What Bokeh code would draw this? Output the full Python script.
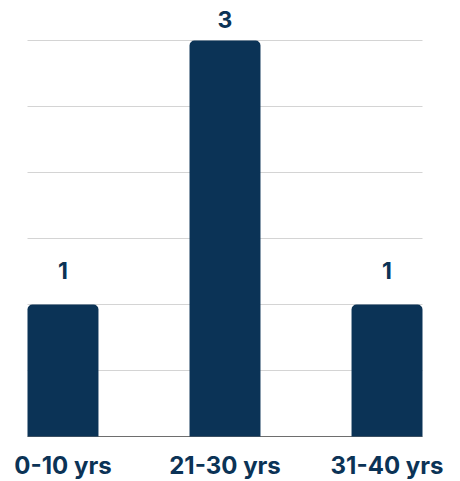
from bokeh.plotting import figure
from bokeh.models import Range1d, ColumnDataSource
from bokeh.core.properties import value
from bokeh.embed import file_html
from bokeh.resources import INLINE

categories = ["0-10 yrs", "21-30 yrs", "31-40 yrs"]
counts = [1, 3, 1]
grid_ticks = [0.5, 1, 1.5, 2, 2.5, 3]

NAVY = "#0b3356"
FONT = "Inter"
BAR_W = 0.438
PX_X = 162.0   # pixels per category
PX_Y = 132.0   # pixels per unit count

xs = list(range(len(categories)))
top = max(counts)
offsets = [-21 if c == top else -34 for c in counts]
x_lo = -BAR_W / 2
x_hi = len(categories) - 1 + BAR_W / 2

src = ColumnDataSource(dict(x=xs, top=counts, lab=[str(c) for c in counts], off=offsets,
                            cat=categories, base=[0] * len(xs)))
grid_src = ColumnDataSource(dict(y=grid_ticks, x0=[x_lo] * len(grid_ticks),
                                 x1=[x_hi] * len(grid_ticks)))

p = figure(width=460, height=481, output_backend="svg", toolbar_location=None,
           x_range=Range1d(x_lo - 27 / PX_X, x_hi + 38 / PX_X),
           y_range=Range1d(-45 / PX_Y, 436 / PX_Y),
           x_axis_type=None, y_axis_type=None,
           min_border=0)
p.outline_line_color = None
p.background_fill_color = "white"
p.border_fill_color = "white"
p.grid.visible = False

# grid lines limited to the bar extent
p.segment(x0="x0", x1="x1", y0="y", y1="y", source=grid_src,
          line_color="#d4d4d4", line_width=1)
# baseline
p.segment(x0=[x_lo], x1=[x_hi], y0=[0], y1=[0], line_color="#6e6e6e", line_width=1)

p.vbar(x="x", top="top", width=BAR_W, bottom=0, source=src, fill_color=NAVY,
       line_color=None, border_radius=(5, 5, 0, 0))
p.text(x="x", y="top", text="lab", y_offset="off", source=src, text_align="center",
       text_baseline="alphabetic", text_font=value(FONT), text_font_style="bold",
       text_font_size="23px", text_color=NAVY)
p.text(x="x", y="base", text="cat", y_offset=29, source=src, text_align="center",
       text_baseline="alphabetic", text_font=value(FONT), text_font_style="bold",
       text_font_size="24px", text_color=NAVY)

open("out.html", "w").write(file_html(p, INLINE))
